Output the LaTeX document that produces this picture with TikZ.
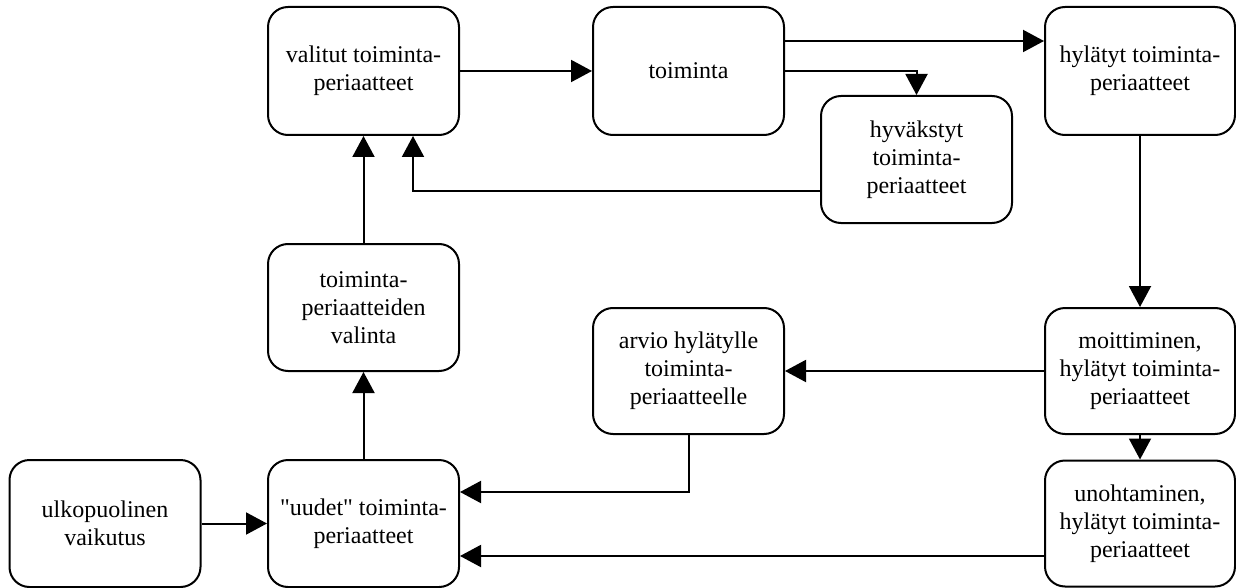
\documentclass[tikz,border=0pt]{standalone}
\usepackage{fontspec}
\setmainfont{Liberation Serif}[Ligatures=TeXOff]
\usetikzlibrary{arrows.meta}
\begin{document}
\begin{tikzpicture}[x=1pt,y=-1pt,
  box/.style={draw, line width=2pt, rounded corners=20pt, minimum width=191pt,
    minimum height=128pt, inner sep=0pt, align=center,
    font=\fontsize{24}{28}\selectfont},
  flow/.style={line width=2pt, -{Triangle[length=21pt,width=22pt]}}]
\useasboundingbox (0,0) rectangle (1236,588);

% top row
\node[box] (valitut) at (363.5,71) {valitut toiminta-\\periaatteet};
\node[box] (toim) at (688.5,71) {toiminta};
\node[box, minimum width=190pt] (hyl) at (1140,71) {hylätyt toiminta-\\periaatteet};
\node[box, minimum height=127pt] (hyv) at (916.5,159.5) {hyväkstyt\\toiminta-\\periaatteet};

% middle row
\node[box, minimum height=127pt] (valinta) at (363.5,307.5) {toiminta-\\periaatteiden\\valinta};
\node[box, minimum height=126pt] (arvio) at (688.5,371) {arvio hylätylle\\toiminta-\\periaatteelle};
\node[box, minimum width=190pt, minimum height=126pt] (moit) at (1140,371) {moittiminen,\\hylätyt toiminta-\\periaatteet};

% bottom row
\node[box, minimum height=127pt] (ulko) at (105,523.5) {ulkopuolinen\\vaikutus};
\node[box, minimum height=127pt] (uudet) at (363.5,523.5) {"uudet" toiminta-\\periaatteet};
\node[box, minimum width=190pt, minimum height=126pt] (unoh) at (1140,523.5) {unohtaminen,\\hylätyt toiminta-\\periaatteet};

% connectors
\draw[flow] (valitut.east) -- (toim.west);
\draw[flow] ([yshift=30pt]toim.east) -- ([yshift=30pt]hyl.west);
\draw[flow] (toim.east) -| (hyv.north);
\draw[flow] ([yshift=-32pt]hyv.west) -| ([xshift=49.5pt]valitut.south);
\draw[flow] (valinta.north) -- (valitut.south);
\draw[flow] (uudet.north) -- (valinta.south);
\draw[flow] (ulko.east) -- (uudet.west);
\draw[flow] (hyl.south) -- (moit.north);
\draw[flow] (moit.west) -- (arvio.east);
\draw[flow] (moit.south) -- (unoh.north);
\draw[flow] (arvio.south) |- ([yshift=31.5pt]uudet.east);
\draw[flow] ([yshift=-32.5pt]unoh.west) -- ([yshift=-32.5pt]uudet.east);
\end{tikzpicture}
\end{document}
